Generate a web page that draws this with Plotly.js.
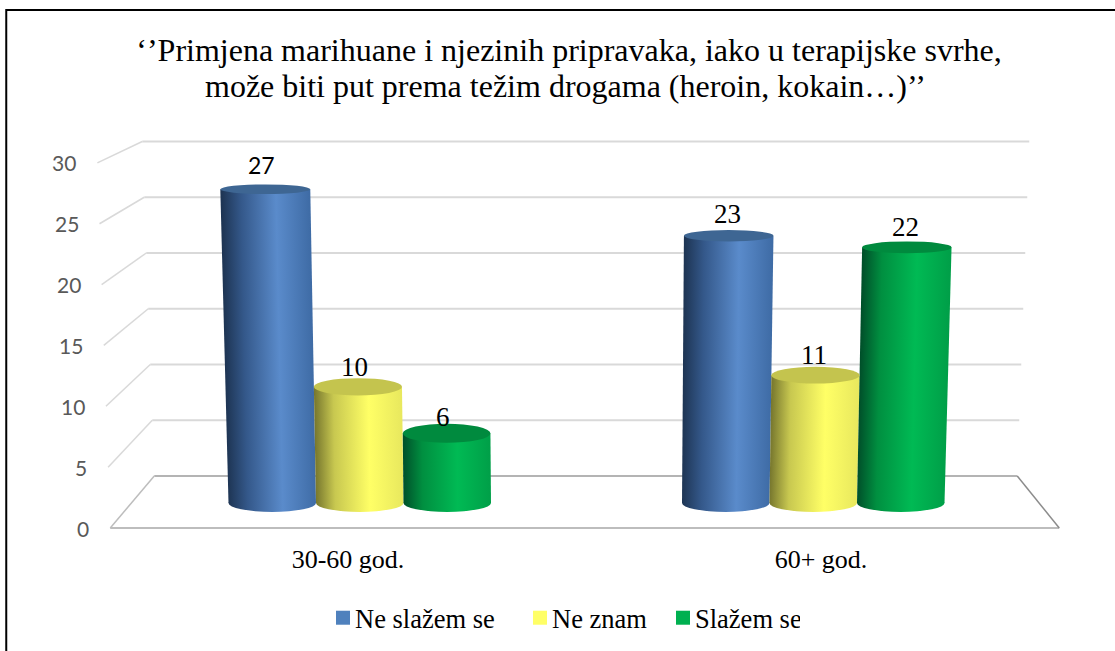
<!DOCTYPE html>
<html>
<head>
<meta charset="utf-8">
<script src="https://cdn.plot.ly/plotly-3.0.1.min.js"></script>
<style>
    html, body { margin: 0; padding: 0; background: #ffffff; }
</style>
</head>
<body>
<div id="chart" style="width:1115px;height:651px;"></div>
<script>
(function () {
    const categories = ['30-60 god.', '60+ god.'];
    const seriesNames = ['Ne slažem se', 'Ne znam', 'Slažem se'];
    const neSlazemSe = [27, 23];
    const neZnam = [10, 11];
    const slazemSe = [6, 22];
    const yTicks = [0, 5, 10, 15, 20, 25, 30];
    const titleLines = [
        '‘’Primjena marihuane i njezinih pripravaka, iako u terapijske svrhe,',
        'može biti put prema težim drogama (heroin, kokain…)’’'
    ];

    const seriesValues = [neSlazemSe, neZnam, slazemSe];
    const serifFont = 'Liberation Serif, Times New Roman, serif';
    const sansFont = 'Lato, Carlito, sans-serif';

    // plot area in page pixels
    const W = 1115, H = 651;
    const plotL = 132.75, plotR = 1039.75, plotT = 130, plotB = 530;
    const px = x => (x - plotL) / (plotR - plotL);
    const py = y => (plotB - y) / (plotB - plotT);

    const catW = (plotR - plotL) / 2;
    const barW = 87.5;
    const barScale = 11.62;   // px per unit at the depth of the cylinders
    const baseY = 503;

    const styles = [
        { flat: '#4f81bd', top: '#3e6693', stops: ['#1e3554', '#34588a', '#5a8bcb', '#3f6ca6'] },
        { flat: '#ffff66', top: '#c4c44e', stops: ['#77772e', '#c8c850', '#ffff66', '#e8e85e'] },
        { flat: '#00b050', top: '#008a3e', stops: ['#00502a', '#008f40', '#00ba54', '#009f48'] }
    ];
    const stopOffsets = [0, 0.22, 0.62, 1];

    // the cylinders lean towards a vanishing point and get wider near the top
    const topShift = (pxCentre, v) => (pxCentre - 575) * v * 0.00085;
    const topWidth = v => 87 + v * 0.11;
    const topRy = v => 10.8 - v * 0.22;

    const labelDx = [[-3.5, -3, -3.5], [-1.5, -1, -1]];
    const labelDy = [[11, 7, 3], [9, 7, 7]];

    const shapes = [];
    const line = (x0, y0, x1, y1, color, width) => shapes.push({
        type: 'line', xref: 'paper', yref: 'paper', layer: 'below',
        x0: px(x0), y0: py(y0), x1: px(x1), y1: py(y1),
        line: { color: color, width: width }
    });

    yTicks.forEach(v => {
        const backY = 476 - v * 11.15;
        const frontY = 528 - v * 12.17;
        const colour = v === 0 ? '#b4b4b4' : '#d9d9d9';
        line(154 - v * 0.4, backY, 1017 + v * 0.4, backY, colour, 2);
        line(110 - v * 0.43, frontY, 154 - v * 0.4, backY, v === 0 ? '#bdbdbd' : '#d9d9d9', 1.5);
    });
    line(110, 528, 1059, 528, '#bdbdbd', 2);
    line(1017, 476, 1059, 528, '#8c8c8c', 1.5);

    // frame, runs off the page on the right and at the bottom
    shapes.push({
        type: 'rect', xref: 'paper', yref: 'paper', layer: 'below',
        x0: px(6), x1: px(1125), y0: py(10), y1: py(665),
        line: { color: '#000000', width: 2 }
    });

    const bottomIdx = [];
    const annotations = [];

    seriesValues.forEach((vals, s) => {
        vals.forEach((v, c) => {
            const dataX = c + (s - 1) * barW / catW;
            const pxCentre = plotL + (dataX + 0.5) * catW;
            const shift = topShift(pxCentre, v);

            bottomIdx.push({ idx: shapes.length, s: s });
            shapes.push({
                type: 'circle', layer: 'below', xref: 'x', yref: 'y',
                xsizemode: 'pixel', ysizemode: 'pixel',
                xanchor: dataX, yanchor: 0,
                x0: -barW / 2, x1: barW / 2, y0: -9, y1: 9,
                fillcolor: styles[s].flat, line: { width: 0 }
            });

            const rx = topWidth(v) / 2;
            const ry = topRy(v);
            shapes.push({
                type: 'circle', layer: 'above', xref: 'x', yref: 'y',
                xsizemode: 'pixel', ysizemode: 'pixel',
                xanchor: dataX + shift / catW, yanchor: v,
                x0: -rx, x1: rx, y0: -ry, y1: ry,
                fillcolor: styles[s].top, line: { width: 0 }
            });

            annotations.push({
                xref: 'x', yref: 'y', x: dataX + shift / catW, y: v,
                xshift: labelDx[c][s], yshift: 13 + labelDy[c][s],
                text: String(v), showarrow: false, yanchor: 'middle',
                font: v === 27
                    ? { family: sansFont, size: 23, color: '#000000' }
                    : { family: serifFont, size: 27, color: '#000000' }
            });
        });
    });

    // value axis labels follow the slanted front edge of the side wall
    yTicks.forEach(v => {
        annotations.push({
            xref: 'paper', yref: 'paper',
            x: px(91 - v * 0.43), y: py(528 - v * 12.17),
            xanchor: 'right', yanchor: 'middle', showarrow: false,
            text: String(v),
            font: { family: sansFont, size: 21, color: '#595959' }
        });
    });

    // second title line sits closer than a normal <br> would
    annotations.push({
        xref: 'paper', yref: 'paper', x: px(565), y: py(86),
        xanchor: 'center', yanchor: 'middle', showarrow: false,
        text: titleLines[1],
        font: { family: serifFont, size: 32, color: '#000000' }
    });

    const traces = seriesValues.map((vals, s) => ({
        type: 'bar',
        name: seriesNames[s],
        x: categories.map((_, i) => i),
        y: vals,
        marker: { color: styles[s].flat, line: { width: 0 } },
        hoverinfo: 'skip'
    }));

    const layout = {
        width: W,
        height: H,
        paper_bgcolor: '#ffffff',
        plot_bgcolor: 'rgba(0,0,0,0)',
        margin: { l: plotL, r: W - plotR, t: plotT, b: H - plotB, pad: 0 },
        barmode: 'group',
        bargap: 1 - 3 * barW / catW,
        bargroupgap: 0,
        title: {
            text: titleLines[0],
            font: { family: serifFont, size: 32, color: '#000000' },
            x: 569 / W, xanchor: 'center', xref: 'container',
            y: 1 - 50 / H, yanchor: 'middle', yref: 'container',
            automargin: false
        },
        xaxis: {
            range: [-0.5, 1.5],
            tickmode: 'array',
            tickvals: [-0.026, 1.017],
            ticktext: categories,
            tickfont: { family: serifFont, size: 26, color: '#000000' },
            ticks: 'outside', ticklen: 6, tickcolor: 'rgba(0,0,0,0)',
            showgrid: false, zeroline: false, showline: false, fixedrange: true
        },
        yaxis: {
            range: [(baseY - plotB) / barScale, (baseY - plotT) / barScale],
            visible: false, showgrid: false, zeroline: false, fixedrange: true
        },
        showlegend: true,
        legend: {
            orientation: 'h',
            x: 323 / W, xanchor: 'left', xref: 'container',
            y: 1 - 594 / H, yanchor: 'top', yref: 'container',
            font: { family: serifFont, size: 26.5, color: '#000000' },
            bgcolor: 'rgba(0,0,0,0)',
            traceorder: 'normal',
            itemclick: false, itemdoubleclick: false
        },
        shapes: shapes,
        annotations: annotations
    };

    const config = { displayModeBar: false, responsive: false };

    Plotly.newPlot('chart', traces, layout, config).then(gd => {
        const svg = gd.querySelector('svg.main-svg');
        const ns = 'http://www.w3.org/2000/svg';
        const defs = svg.querySelector('defs') || svg.insertBefore(document.createElementNS(ns, 'defs'), svg.firstChild);

        const makeGradient = (id, s, attrs) => {
            const grad = document.createElementNS(ns, 'linearGradient');
            grad.setAttribute('id', id);
            Object.keys(attrs).forEach(k => grad.setAttribute(k, attrs[k]));
            styles[s].stops.forEach((c, i) => {
                const stop = document.createElementNS(ns, 'stop');
                stop.setAttribute('offset', stopOffsets[i]);
                stop.setAttribute('stop-color', c);
                grad.appendChild(stop);
            });
            defs.appendChild(grad);
        };

        styles.forEach((st, s) => makeGradient('cyl' + s, s, {}));

        // rework each bar into a leaning cylinder body
        gd.querySelectorAll('.barlayer .trace.bars').forEach((tr, s) => {
            tr.querySelectorAll('.point path').forEach((p, c) => {
                const n = p.getAttribute('d').match(/-?[\d.]+/g).map(Number);
                const x0 = n[0], yBase = n[1], yTop = n[2], x1 = n[3];
                const v = seriesValues[s][c];
                const shift = topShift(plotL + (x0 + x1) / 2, v);
                const half = topWidth(v) / 2;
                const mid = (x0 + x1) / 2 + shift;
                p.setAttribute('d', `M${x0},${yBase}L${mid - half},${yTop}L${mid + half},${yTop}L${x1},${yBase}Z`);

                // shading follows the lean and meets the bottom ellipse at the base
                const lean = shift / (yTop - yBase);
                const id = `cyl${s}_${c}`;
                makeGradient(id, s, {
                    gradientUnits: 'userSpaceOnUse',
                    x1: x0, y1: 0, x2: x1, y2: 0,
                    gradientTransform: `matrix(1,0,${lean},1,${-lean * yBase},0)`
                });
                p.style.fill = `url(#${id})`;
            });
        });

        bottomIdx.forEach(b => {
            const el = gd.querySelector(`path[data-index="${b.idx}"]`);
            if (el) el.style.fill = `url(#cyl${b.s})`;
        });

        // legend: larger swatches, text close to them, entries at the original spacing
        const entryOffsets = [0, 197, 340];
        gd.querySelectorAll('.legend .traces').forEach((tr, i) => {
            const m = /translate\(\s*(-?[\d.]+)[ ,]+(-?[\d.]+)/.exec(tr.getAttribute('transform'));
            if (m) {
                const yPos = m[2];
                if (i === 0) tr.dataset.x0 = m[1];
                tr.setAttribute('transform', `translate(${parseFloat(gd.querySelector('.legend .traces').dataset.x0) + entryOffsets[i]},${yPos})`);
            }
            tr.querySelectorAll('.legendpoints path').forEach(p => p.setAttribute('d', 'M7,7H-7V-7H7Z'));
            const txt = tr.querySelector('.legendtext');
            if (txt) txt.setAttribute('x', parseFloat(txt.getAttribute('x')) - 8);
        });
    });
})();
</script>
</body>
</html>
